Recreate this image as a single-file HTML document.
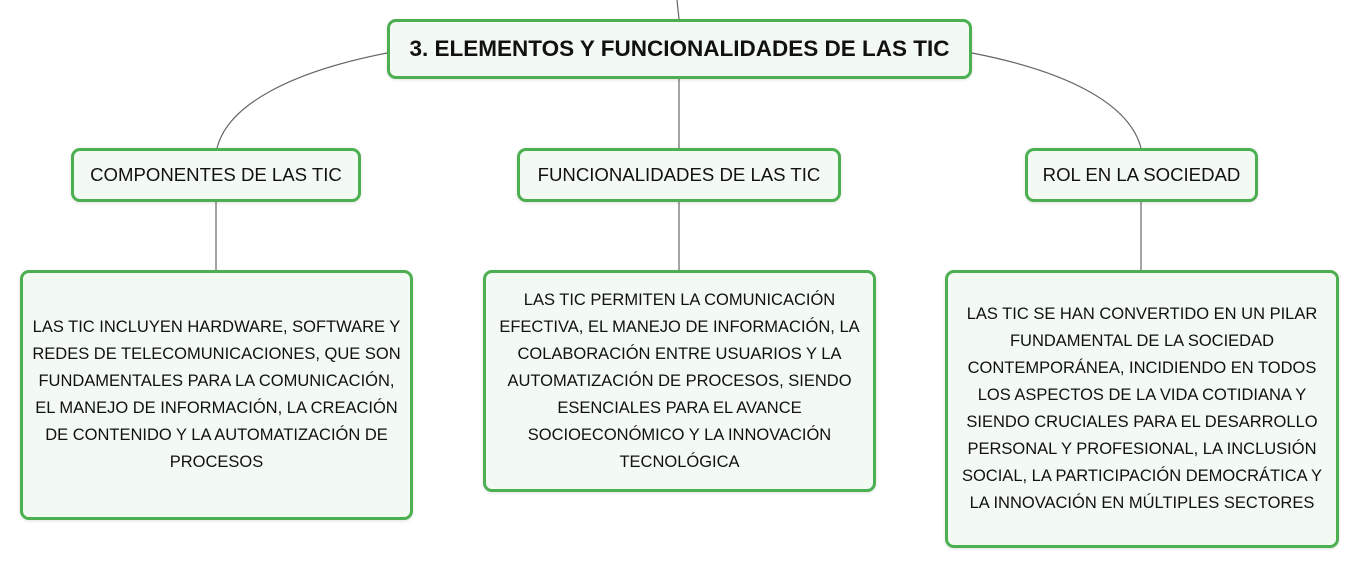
<!DOCTYPE html>
<html><head><meta charset="utf-8"><style>
html,body{margin:0;padding:0;background:#fff;width:1359px;height:568px;overflow:hidden;position:relative;font-family:"Liberation Sans",sans-serif;color:#111}
.b{position:absolute;box-sizing:border-box;border:3px solid #4caf50;border-radius:9px;background:#f3f9f3;display:flex;align-items:center;justify-content:center;text-align:center;box-shadow:0 1px 3px rgba(0,0,0,.12)}
.h{font-size:18.6px;white-space:nowrap}
.t{font-size:16.5px;line-height:27px;white-space:nowrap}
svg{position:absolute;left:0;top:0}
</style></head><body>
<svg width="1359" height="568">
<g stroke="#666" stroke-width="1.2" fill="none">
<path d="M677 0 L679 19"/>
<path d="M387 53 C290 72 228 105 217 148"/>
<path d="M972 53 C1070 72 1130 105 1141 148"/>
<path d="M679 78 L679 148"/>
<path d="M216 201 L216 270"/>
<path d="M679 201 L679 270"/>
<path d="M1141 201 L1141 270"/>
</g>
</svg>
<div class="b" style="left:387px;top:19px;width:585px;height:60px"><span style="font-size:22.5px;font-weight:bold;white-space:nowrap">3. ELEMENTOS Y FUNCIONALIDADES DE LAS TIC</span></div>
<div class="b" style="left:71px;top:148px;width:290px;height:54px"><span class="h">COMPONENTES DE LAS TIC</span></div>
<div class="b" style="left:517px;top:148px;width:324px;height:54px"><span class="h">FUNCIONALIDADES DE LAS TIC</span></div>
<div class="b" style="left:1025px;top:148px;width:233px;height:54px"><span class="h">ROL EN LA SOCIEDAD</span></div>
<div class="b" style="left:20px;top:270px;width:393px;height:250px"><div class="t">LAS TIC INCLUYEN HARDWARE, SOFTWARE Y<br>REDES DE TELECOMUNICACIONES, QUE SON<br>FUNDAMENTALES PARA LA COMUNICACIÓN,<br>EL MANEJO DE INFORMACIÓN, LA CREACIÓN<br>DE CONTENIDO Y LA AUTOMATIZACIÓN DE<br>PROCESOS</div></div>
<div class="b" style="left:483px;top:270px;width:393px;height:222px"><div class="t">LAS TIC PERMITEN LA COMUNICACIÓN<br>EFECTIVA, EL MANEJO DE INFORMACIÓN, LA<br>COLABORACIÓN ENTRE USUARIOS Y LA<br>AUTOMATIZACIÓN DE PROCESOS, SIENDO<br>ESENCIALES PARA EL AVANCE<br>SOCIOECONÓMICO Y LA INNOVACIÓN<br>TECNOLÓGICA</div></div>
<div class="b" style="left:945px;top:270px;width:394px;height:278px"><div class="t">LAS TIC SE HAN CONVERTIDO EN UN PILAR<br>FUNDAMENTAL DE LA SOCIEDAD<br>CONTEMPORÁNEA, INCIDIENDO EN TODOS<br>LOS ASPECTOS DE LA VIDA COTIDIANA Y<br>SIENDO CRUCIALES PARA EL DESARROLLO<br>PERSONAL Y PROFESIONAL, LA INCLUSIÓN<br>SOCIAL, LA PARTICIPACIÓN DEMOCRÁTICA Y<br>LA INNOVACIÓN EN MÚLTIPLES SECTORES</div></div>
</body></html>
